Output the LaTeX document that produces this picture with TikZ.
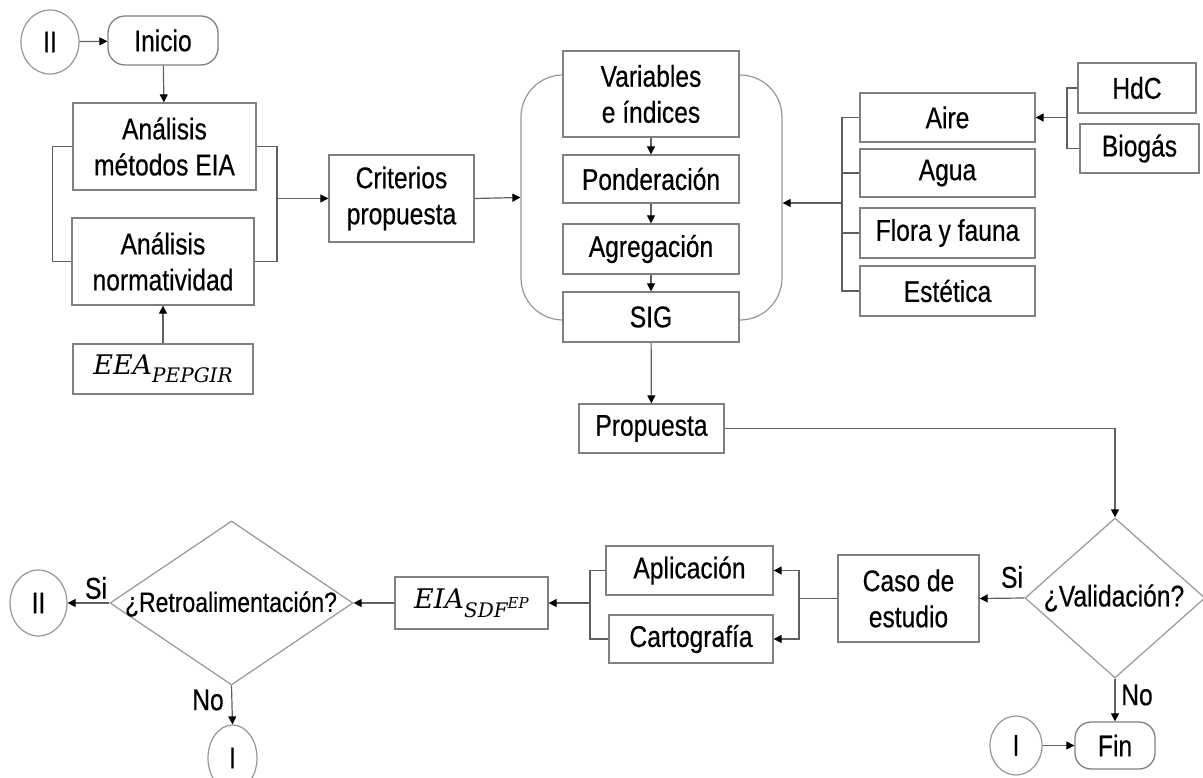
\documentclass[tikz,border=0pt]{standalone}
\usepackage{fontspec}
\setmainfont{Liberation Sans}[FakeStretch=0.82,FakeBold=0.4]
\newfontfamily\formulafont{DejaVu Serif}
\newcommand{\fvar}[2]{{\fontsize{#1}{#1}\formulafont\itshape #2}}
\usetikzlibrary{shapes.geometric,arrows.meta}
\definecolor{boxgray}{RGB}{128,128,128}
\definecolor{linegray}{RGB}{95,95,95}
\definecolor{softgray}{RGB}{150,150,150}

\begin{document}
\begin{tikzpicture}[x=1pt,y=-1pt,
  txt/.style={font=\fontsize{30}{36}\selectfont, text=black},
  sz/.style 2 args={minimum width=#1pt, minimum height=#2pt},
  box/.style={txt, draw=boxgray, line width=1.3pt, fill=white, inner sep=0pt, align=center},
  term/.style={box, rounded corners=17pt},
  conn/.style={txt, draw=softgray, line width=1.2pt, ellipse, inner sep=0pt},
  decision/.style={draw=softgray, line width=1.2pt, diamond, inner sep=0pt},
  link/.style={draw=linegray, line width=1.2pt},
  arr/.style={link, -{Triangle[length=8pt,width=8pt,color=black]}}
]
\useasboundingbox (0,0) rectangle (1203,778);
\clip (0,0) rectangle (1203,778);

% ---- start and first analysis block
\node[conn, sz={58}{64}] (connA) at (50,42) {II};
\node[term, sz={110}{49}] (inicio) at (163,40.5) {Inicio};
\node[box, sz={183}{87}] (metodos) at (164.5,146.5) {Análisis\\métodos EIA};
\node[box, sz={182}{87}] (norma) at (163,261.5) {Análisis\\normatividad};
\node[box, sz={180}{50}] (eea) at (163,369)
  {\fvar{27}{EEA}\raisebox{-8pt}{\fvar{20}{PEPGIR}}};
\node[box, sz={145}{87}] (criterios) at (401.5,198.5) {Criterios\\propuesta};

\coordinate (jl) at (277,198.5);
\draw[arr] (connA) -- (inicio);
\draw[arr] (inicio) -- (metodos);
\draw[arr] (eea) -- (norma);
\draw[link] (metodos.west) -- ++(-20,0) |- (norma.west);
\draw[link] (metodos.east) -| (jl) |- (norma.east);
\draw[arr] (jl) -- (criterios.west);

% ---- central group
\node[draw=softgray, line width=1.2pt, rounded corners=42pt, sz={261}{245}] (grupo) at (651.5,197.5) {};
\node[box, sz={176}{86}] (variables) at (651,94) {Variables\\e índices};
\node[box, sz={176}{48}] (ponder) at (651,179) {Ponderación};
\node[box, sz={176}{50}] (agreg) at (651,249) {Agregación};
\node[box, sz={176}{50}] (sig) at (651,317) {SIG};
\draw[arr] (criterios.east) -- (grupo.west);
\draw[arr] (variables) -- (ponder);
\draw[arr] (ponder) -- (agreg);
\draw[arr] (agreg) -- (sig);

% ---- environmental components
\node[box, sz={175}{49}] (aire) at (947.5,117.5) {Aire};
\node[box, sz={175}{48}] (agua) at (947.5,173) {Agua};
\node[box, sz={175}{50}] (flora) at (947.5,233) {Flora y fauna};
\node[box, sz={175}{50}] (estetica) at (947.5,291) {Estética};
\node[box, sz={118}{50}] (hdc) at (1137,88) {HdC};
\node[box, sz={119}{49}] (biogas) at (1139.5,148.5) {Biogás};

\coordinate (tj) at (842,203);
\coordinate (sj) at (1067,117.5);
\draw[link] (aire.west) -| (tj) |- (estetica.west);
\draw[link] (agua.west) -- (agua.west -| tj);
\draw[link] (flora.west) -- (flora.west -| tj);
\draw[arr] (tj) -- (tj -| grupo.east);
\draw[link] (hdc.west) -| (sj) |- (biogas.west);
\draw[arr] (sj) -- (aire.east);

% ---- proposal and validation
\node[box, sz={145}{49}] (propuesta) at (651.5,428.5) {Propuesta};
\node[decision, sz={180}{160}] (valid) at (1115,598) {};
\node[txt] (validtxt) at (1114,598) {¿Validación?};
\draw[arr] (sig) -- (propuesta);
\draw[arr] (propuesta.east) -| (valid.north);

\node[box, sz={141}{87}] (caso) at (908.5,598.5) {Caso de\\estudio};
\node[box, sz={167}{49}] (aplic) at (689.5,570.5) {Aplicación};
\node[box, sz={164}{48}] (carto) at (691,639) {Cartografía};
\node[box, sz={153}{52}] (eia) at (471.5,603)
  {\fvar{27}{EIA}\raisebox{-9pt}{\fvar{20}{SDF}\raisebox{9pt}{\fvar{15}{EP}}}};
\node[txt] (siA) at (1012,577) {Si};
\draw[arr] (valid.west) -- (caso.east);

\coordinate (cj) at (799,598.5);
\coordinate (bj) at (590,603);
\draw[link] (caso.west) -- (cj);
\draw[arr] (cj) |- (aplic.east);
\draw[arr] (cj) |- (carto.east);
\draw[link] (aplic.west) -| (bj) |- (carto.west);
\draw[arr] (bj) -- (eia.east);

% ---- end of the process
\node[term, sz={80}{47}, rounded corners=16pt] (fin) at (1115,745.5) {Fin};
\node[conn, sz={52}{59}] (connB) at (1016,745.5) {I};
\node[txt] (noA) at (1137,695) {No};
\draw[arr] (valid.south) -- (fin.north);
\draw[arr] (connB) -- (fin);

% ---- feedback decision
\node[decision, sz={243}{164}] (retro) at (231.5,603) {};
\node[txt, font=\fontsize{28}{32}\selectfont] (retrotxt) at (231,604) {¿Retroalimentación?};
\node[conn, sz={57}{66}] (connC) at (38.5,603) {II};
\node[conn, sz={49}{66}] (connD) at (232.5,758) {I};
\node[txt] (siB) at (96,588) {Si};
\node[txt] (noB) at (208,700) {No};
\draw[arr] (eia.west) -- (retro.east);
\draw[arr] (retro.west) -- (connC.east);
\draw[arr] (retro.south) -- (connD.north);
\end{tikzpicture}
\end{document}
